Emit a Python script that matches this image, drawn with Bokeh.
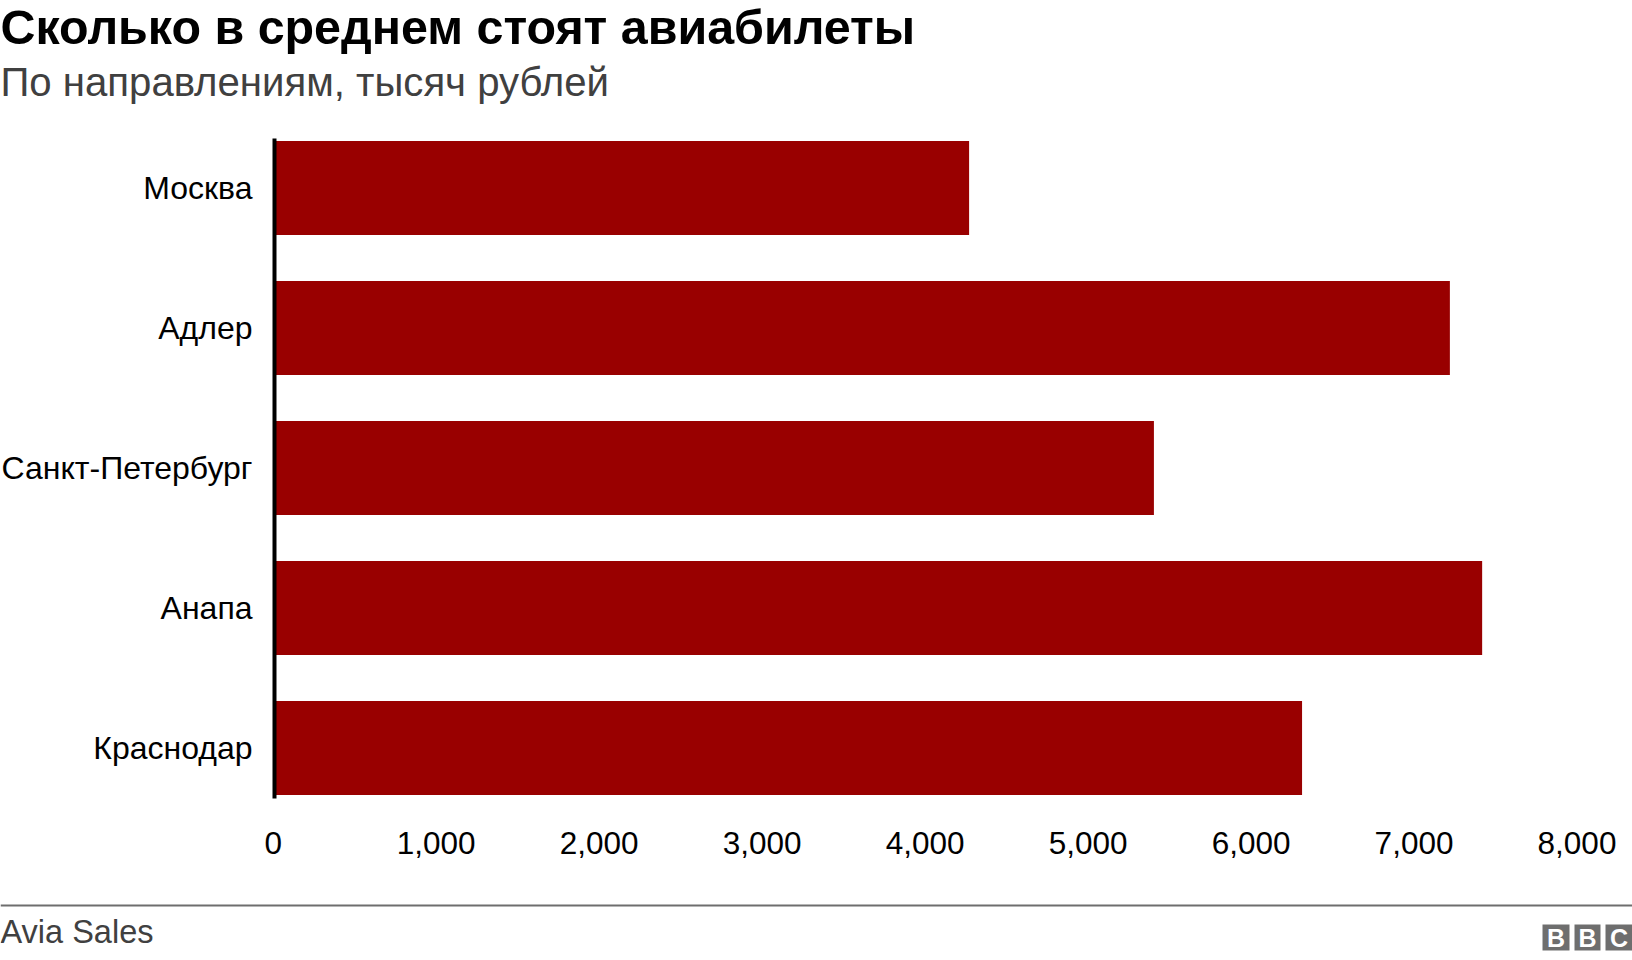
from bokeh.embed import file_html
from bokeh.resources import INLINE
from bokeh.plotting import figure
from bokeh.models import (ColumnDataSource, Range1d, FixedTicker,
                          NumeralTickFormatter, Label, BoxAnnotation)

cities = ["Москва", "Адлер", "Санкт-Петербург", "Анапа", "Краснодар"]
prices = [4270, 7220, 5404, 7418, 6313]
tick_values = [0, 1000, 2000, 3000, 4000, 5000, 6000, 7000, 8000]
title_text = "Сколько в среднем стоят авиабилеты"
subtitle_text = "По направлениям, тысяч рублей"
source_text = "Avia Sales"
logo_letters = ["B", "B", "C"]

FONT = "Liberation Sans"
W, H = 1632, 960
X0, X8000 = 272.7, 1576.5          # pixel position of value 0 and value 8000
Y_FIRST, PITCH = 187.5, 140.0      # pixel centre of the first bar, distance between bars
positions = list(range(len(cities)))
px_per_unit = (X8000 - X0) / 8000

src = ColumnDataSource(dict(pos=positions, price=prices))

p = figure(width=W, height=H, output_backend="svg", toolbar_location=None,
           x_range=Range1d(-X0 / px_per_unit, (W - X0) / px_per_unit),
           y_range=Range1d((H - Y_FIRST) / PITCH, -Y_FIRST / PITCH),
           min_border_left=0, min_border_right=0, min_border_top=0, min_border_bottom=0,
           background_fill_color="white", border_fill_color="white",
           outline_line_color=None,
           styles={"position": "absolute", "left": "0px", "top": "0px"})

p.hbar(y="pos", left=0, right="price", height=94 / PITCH, source=src, color="#990000", line_color=None)

p.grid.visible = False
axis_top = (137.5 - Y_FIRST) / PITCH
axis_bottom = (797.5 - Y_FIRST) / PITCH

xa = p.xaxis[0]
xa.fixed_location = axis_bottom
xa.ticker = FixedTicker(ticks=tick_values)
xa.formatter = NumeralTickFormatter(format="0,0")
xa.axis_line_color = None
xa.major_tick_line_color = None
xa.minor_tick_line_color = None
xa.major_label_text_font = FONT
xa.major_label_text_font_size = "31.5px"
xa.major_label_text_color = "black"
xa.major_label_standoff = 28

ya = p.yaxis[0]
ya.fixed_location = (274 - X0) / px_per_unit
ya.bounds = (axis_top, axis_bottom)
ya.ticker = FixedTicker(ticks=positions)
ya.major_label_overrides = dict(zip(positions, cities))
ya.axis_line_color = "black"
ya.axis_line_width = 4
ya.major_tick_line_color = None
ya.minor_tick_line_color = None
ya.major_label_text_font = FONT
ya.major_label_text_font_size = "32px"
ya.major_label_text_color = "black"
ya.major_label_standoff = 16


def txt(x, y, text, size, color, style="normal", align="left"):
    p.add_layout(Label(x=x, y=H - y, x_units="screen", y_units="screen", text=text,
                       text_font=FONT, text_font_size=size, text_color=color,
                       text_font_style=style, text_align=align, text_baseline="alphabetic"))


def box(l, r, t, b, color):
    p.add_layout(BoxAnnotation(left=l, right=r, top=H - t, bottom=H - b,
                               left_units="screen", right_units="screen",
                               top_units="screen", bottom_units="screen",
                               fill_color=color, fill_alpha=1, line_color=None))


txt(0, 26.5, title_text, "48.4px", "black", "bold")
txt(0, 81.5, subtitle_text, "40.15px", "#404040")
txt(0, 931, source_text, "32.5px", "#404040")

box(0, W, 904, 906, "#6e6e6e")
for l, r, ch in zip([1542, 1574, 1605], [1569, 1600, 1632], logo_letters):
    box(l, r, 924, 950, "#6e6e6e")
    txt((l + r) / 2, 937, ch, "25px", "white", "bold", "center")

open("out.html", "w").write(file_html(p, INLINE))
